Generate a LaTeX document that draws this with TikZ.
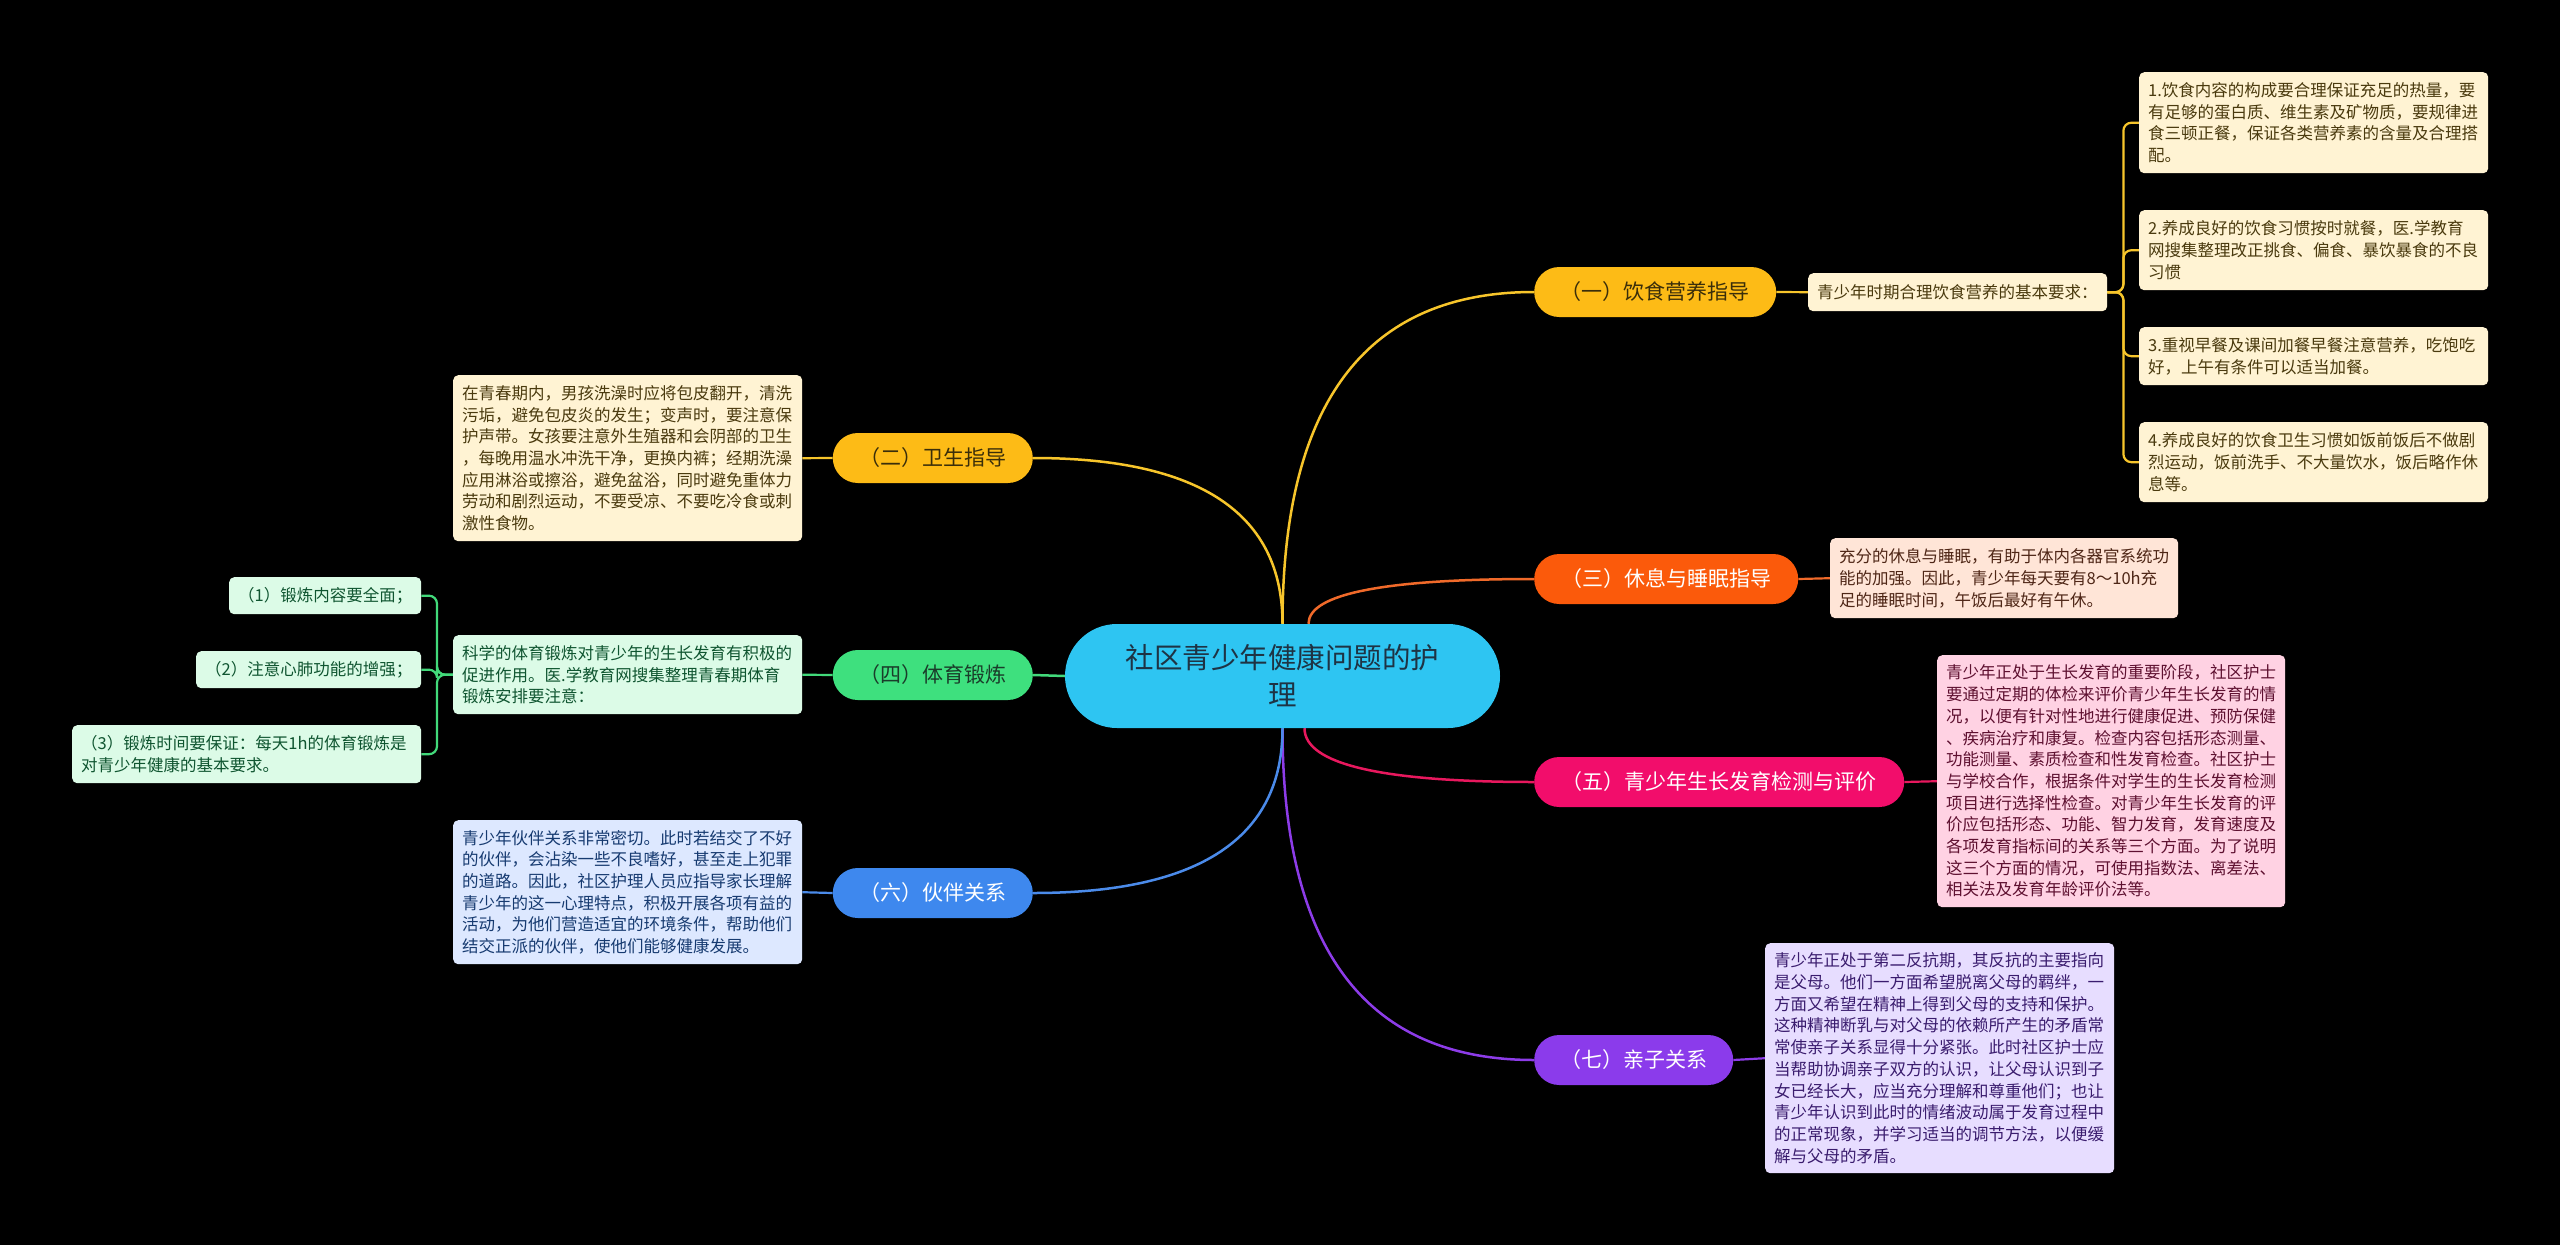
\documentclass[tikz,border=0pt]{standalone}
\usepackage{fontspec}
\setmainfont{Noto Sans CJK SC}
\usetikzlibrary{calc}
\pgfdeclarelayer{bg}
\pgfsetlayers{bg,main}
\definecolor{cyanC}{HTML}{2EC5F2}
\definecolor{ctrTxt}{HTML}{1E3344}
\definecolor{yel}{HTML}{FDBB16}
\definecolor{yelE}{HTML}{F7C52B}
\definecolor{yelL}{HTML}{FFF3D3}
\definecolor{yelT}{HTML}{4A3A0E}
\definecolor{yelTxt}{HTML}{3A2E0A}
\definecolor{ora}{HTML}{FB5A0B}
\definecolor{oraE}{HTML}{F06A2A}
\definecolor{oraL}{HTML}{FFE5D7}
\definecolor{oraT}{HTML}{4E2616}
\definecolor{pnk}{HTML}{F20D6B}
\definecolor{pnkE}{HTML}{E8185E}
\definecolor{pnkL}{HTML}{FFD2E3}
\definecolor{pnkT}{HTML}{5E1030}
\definecolor{grn}{HTML}{3EE07E}
\definecolor{grnE}{HTML}{42D97A}
\definecolor{grnL}{HTML}{DCFBE7}
\definecolor{grnT}{HTML}{0F5530}
\definecolor{grnTxt}{HTML}{1A3D2A}
\definecolor{blu}{HTML}{3E88EE}
\definecolor{bluE}{HTML}{4B8BEA}
\definecolor{bluL}{HTML}{DDE8FF}
\definecolor{bluT}{HTML}{163A70}
\definecolor{pur}{HTML}{8B3BEB}
\definecolor{purE}{HTML}{8D3CE8}
\definecolor{purL}{HTML}{E7DDFF}
\definecolor{purT}{HTML}{3A1C6E}
\tikzset{
  branch/.style={rounded corners=25pt, minimum height=50pt, inner sep=0pt,
    font=\fontsize{21}{25}\selectfont},
  leaf/.style={rounded corners=5pt, inner xsep=9pt, inner ysep=2pt, align=left,
    anchor=north west, font=\fontsize{16.5}{21.7}\selectfont},
  mainedge/.style={line width=2.5pt},
  subedge/.style={line width=2.2pt},
  qedge/.style={to path={let \p1=(\tikztostart), \p2=(\tikztotarget) in
    .. controls (\x1,{\y1+0.667*(\y2-\y1)}) and ({\x2+0.667*(\x1-\x2)},\y2) .. (\tikztotarget)}}
}
\begin{document}
\begin{tikzpicture}[x=1pt,y=-1pt]
\useasboundingbox (0,0) rectangle (2560,1245);
\begin{pgfonlayer}{bg}
\fill[black] (0,0) rectangle (2560,1245);
\end{pgfonlayer}

% center
\node[fill=cyanC, rounded corners=52pt, minimum width=435pt, minimum height=104pt,
  inner sep=0pt, align=center, text=ctrTxt, font=\fontsize{28.5}{37}\selectfont]
  (ctr) at (1282.5,676) {社区青少年健康问题的护\\理};

% branches
\node[branch, fill=yel, text=yelTxt, minimum width=242pt, anchor=west] (b1) at (1534,292) {（一）饮食营养指导};
\node[branch, fill=ora, text=white, minimum width=264pt, anchor=west] (b3) at (1534,579) {（三）休息与睡眠指导};
\node[branch, fill=pnk, text=white, minimum width=370pt, anchor=west] (b5) at (1534,782) {（五）青少年生长发育检测与评价};
\node[branch, fill=pur, text=white, minimum width=199pt, anchor=west] (b7) at (1534,1060) {（七）亲子关系};
\node[branch, fill=yel, text=yelTxt, minimum width=200pt, anchor=east] (b2) at (1033,458) {（二）卫生指导};
\node[branch, fill=grn, text=grnTxt, minimum width=200pt, anchor=east] (b4) at (1033,675) {（四）体育锻炼};
\node[branch, fill=blu, text=white, minimum width=200pt, anchor=east] (b6) at (1033,893) {（六）伙伴关系};

% leaves
\node[leaf, fill=yelL, text=yelT, minimum width=299pt, text width=281pt, minimum height=38pt] (m1) at (1808,273)
  {青少年时期合理饮食营养的基本要求：};
\node[leaf, fill=yelL, text=yelT, minimum width=349pt, text width=331pt, minimum height=101pt] (L1a) at (2139,72)
  {1.饮食内容的构成要合理保证充足的热量，要\\有足够的蛋白质、维生素及矿物质，要规律进\\食三顿正餐，保证各类营养素的含量及合理搭\\配。};
\node[leaf, fill=yelL, text=yelT, minimum width=349pt, text width=331pt, minimum height=80pt] (L1b) at (2139,210)
  {2.养成良好的饮食习惯按时就餐，医.学教育\\网搜集整理改正挑食、偏食、暴饮暴食的不良\\习惯};
\node[leaf, fill=yelL, text=yelT, minimum width=349pt, text width=331pt, minimum height=58pt] (L1c) at (2139,327)
  {3.重视早餐及课间加餐早餐注意营养，吃饱吃\\好，上午有条件可以适当加餐。};
\node[leaf, fill=yelL, text=yelT, minimum width=349pt, text width=331pt, minimum height=80pt] (L1d) at (2139,422)
  {4.养成良好的饮食卫生习惯如饭前饭后不做剧\\烈运动，饭前洗手、不大量饮水，饭后略作休\\息等。};
\node[leaf, fill=oraL, text=oraT, minimum width=348pt, text width=330pt, minimum height=80pt] (L3) at (1830,538)
  {充分的休息与睡眠，有助于体内各器官系统功\\能的加强。因此，青少年每天要有8～10h充\\足的睡眠时间，午饭后最好有午休。};
\node[leaf, fill=pnkL, text=pnkT, minimum width=348pt, text width=330pt, minimum height=252pt] (L5) at (1937,655)
  {青少年正处于生长发育的重要阶段，社区护士\\要通过定期的体检来评价青少年生长发育的情\\况，以便有针对性地进行健康促进、预防保健\\、疾病治疗和康复。检查内容包括形态测量、\\功能测量、素质检查和性发育检查。社区护士\\与学校合作，根据条件对学生的生长发育检测\\项目进行选择性检查。对青少年生长发育的评\\价应包括形态、功能、智力发育，发育速度及\\各项发育指标间的关系等三个方面。为了说明\\这三个方面的情况，可使用指数法、离差法、\\相关法及发育年龄评价法等。};
\node[leaf, fill=purL, text=purT, minimum width=349pt, text width=331pt, minimum height=230pt] (L7) at (1765,943)
  {青少年正处于第二反抗期，其反抗的主要指向\\是父母。他们一方面希望脱离父母的羁绊，一\\方面又希望在精神上得到父母的支持和保护。\\这种精神断乳与对父母的依赖所产生的矛盾常\\常使亲子关系显得十分紧张。此时社区护士应\\当帮助协调亲子双方的认识，让父母认识到子\\女已经长大，应当充分理解和尊重他们；也让\\青少年认识到此时的情绪波动属于发育过程中\\的正常现象，并学习适当的调节方法，以便缓\\解与父母的矛盾。};
\node[leaf, fill=yelL, text=yelT, minimum width=349pt, text width=331pt, minimum height=166pt] (L2) at (453,375)
  {在青春期内，男孩洗澡时应将包皮翻开，清洗\\污垢，避免包皮炎的发生；变声时，要注意保\\护声带。女孩要注意外生殖器和会阴部的卫生\\，每晚用温水冲洗干净，更换内裤；经期洗澡\\应用淋浴或擦浴，避免盆浴，同时避免重体力\\劳动和剧烈运动，不要受凉、不要吃冷食或刺\\激性食物。};
\node[leaf, fill=grnL, text=grnT, minimum width=349pt, text width=331pt, minimum height=79pt] (L4) at (453,635)
  {科学的体育锻炼对青少年的生长发育有积极的\\促进作用。医.学教育网搜集整理青春期体育\\锻炼安排要注意：};
\node[leaf, fill=grnL, text=grnT, minimum width=192pt, text width=174pt, minimum height=37pt] (S1) at (229,577)
  {（1）锻炼内容要全面；};
\node[leaf, fill=grnL, text=grnT, minimum width=225pt, text width=207pt, minimum height=37pt] (S2) at (196,651)
  {（2）注意心肺功能的增强；};
\node[leaf, fill=grnL, text=grnT, minimum width=349pt, text width=331pt, minimum height=58pt] (S3) at (72,725)
  {（3）锻炼时间要保证：每天1h的体育锻炼是\\对青少年健康的基本要求。};
\node[leaf, fill=bluL, text=bluT, minimum width=349pt, text width=331pt, minimum height=144pt] (L6) at (453,820)
  {青少年伙伴关系非常密切。此时若结交了不好\\的伙伴，会沾染一些不良嗜好，甚至走上犯罪\\的道路。因此，社区护理人员应指导家长理解\\青少年的这一心理特点，积极开展各项有益的\\活动，为他们营造适宜的环境条件，帮助他们\\结交正派的伙伴，使他们能够健康发展。};

% connectors
\coordinate (s3) at ($(ctr.north)+(26,0)$);
\coordinate (s5) at ($(ctr.south)+(22,0)$);
\begin{pgfonlayer}{bg}
\draw[mainedge, yelE, qedge] (ctr.north) to (b1.west);
\draw[mainedge, yelE, qedge] (ctr.north) to (b2.east);
\draw[mainedge, oraE, qedge] (s3) to (b3.west);
\draw[mainedge, pnkE, qedge] (s5) to (b5.west);
\draw[mainedge, purE, qedge] (ctr.south) to (b7.west);
\draw[mainedge, bluE, qedge] (ctr.south) to (b6.east);
\draw[mainedge, grnE] (ctr.west) -- (b4.east);

\draw[subedge, yelE] (b1.east) -- (m1.west);
\draw[subedge, yelE, rounded corners=8pt] (m1.east) -- ++(16,0) |- (L1a.west);
\draw[subedge, yelE, rounded corners=8pt] (m1.east) -- ++(16,0) |- (L1b.west);
\draw[subedge, yelE, rounded corners=8pt] (m1.east) -- ++(16,0) |- (L1c.west);
\draw[subedge, yelE, rounded corners=8pt] (m1.east) -- ++(16,0) |- (L1d.west);
\draw[subedge, oraE] (b3.east) -- (L3.west);
\draw[subedge, pnkE] (b5.east) -- (L5.west);
\draw[subedge, purE] (b7.east) -- (L7.west);
\draw[subedge, yelE] (b2.west) -- (L2.east);
\draw[subedge, grnE] (b4.west) -- (L4.east);
\draw[subedge, bluE] (b6.west) -- (L6.east);
\draw[subedge, grnE, rounded corners=8pt] (L4.west) -- ++(-16,0) |- (S1.east);
\draw[subedge, grnE, rounded corners=8pt] (L4.west) -- ++(-16,0) |- (S2.east);
\draw[subedge, grnE, rounded corners=8pt] (L4.west) -- ++(-16,0) |- (S3.east);
\end{pgfonlayer}
\end{tikzpicture}
\end{document}
